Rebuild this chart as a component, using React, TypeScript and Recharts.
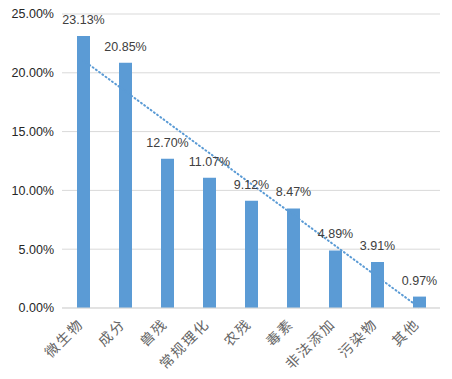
import React from "react";
import { ComposedChart, Bar, Line, XAxis, YAxis, CartesianGrid, LabelList } from "recharts";

const categories = ["微生物", "成分", "兽残", "常规理化", "农残", "毒素", "非法添加", "污染物", "其他"];
const shares = [23.13, 20.85, 12.7, 11.07, 9.12, 8.47, 4.89, 3.91, 0.97];
const yTicks = [0, 5, 10, 15, 20, 25];

// Linear trendline (least squares over the bar values), as the spreadsheet draws it
const n = shares.length;
const meanX = (n + 1) / 2;
const meanY = shares.reduce((a, b) => a + b, 0) / n;
let sxy = 0;
let sxx = 0;
shares.forEach((y, i) => {
  const dx = i + 1 - meanX;
  sxy += dx * (y - meanY);
  sxx += dx * dx;
});
const slope = sxy / sxx;

const data = categories.map((name, i) => ({
  name,
  value: shares[i],
  trend: meanY + slope * (i + 1 - meanX),
}));

const CJK = '"Noto Sans CJK SC", "Noto Sans", sans-serif';
const LAT = '"Liberation Sans", "DejaVu Sans", sans-serif';

const XTick = (props: any) => {
  const { x, y, payload } = props;
  return (
    <g transform={`translate(${x - 4},${y + 3})`}>
      <text
        x={0}
        y={0}
        dy={8}
        textAnchor="end"
        transform="rotate(-45)"
        fill="#666666"
        fontSize={14}
        letterSpacing={2}
        fontFamily={CJK}
      >
        {payload.value}
      </text>
    </g>
  );
};

export default function App() {
  return (
    <div style={{ position: "absolute", left: 0, top: 0, background: "#fff" }}>
      <ComposedChart
        width={452}
        height={379}
        data={data}
        margin={{ top: 14, right: 12, bottom: 0, left: 0 }}
      >
        <CartesianGrid vertical={false} stroke="#d9d9d9" />
        <XAxis
          dataKey="name"
          tick={<XTick />}
          tickLine={false}
          axisLine={{ stroke: "#d9d9d9" }}
          height={71}
          interval={0}
        />
        <YAxis
          width={62}
          domain={[0, 25]}
          ticks={yTicks}
          tickFormatter={(v: number) => `${v.toFixed(2)}%`}
          tick={{ fill: "#262626", fontSize: 12.5, fontFamily: LAT }}
          tickLine={false}
          axisLine={false}
        />
        <Bar dataKey="value" fill="#5b9bd5" barSize={13} isAnimationActive={false}>
          <LabelList
            dataKey="value"
            position="top"
            offset={12}
            formatter={(v: number) => `${v.toFixed(2)}%`}
            style={{ fill: "#404040", fontSize: 12.5, fontFamily: LAT }}
          />
        </Bar>
        <Line
          dataKey="trend"
          stroke="#5b9bd5"
          strokeWidth={2}
          strokeDasharray="1 3"
          strokeLinecap="round"
          dot={false}
          activeDot={false}
          type="linear"
          isAnimationActive={false}
        />
      </ComposedChart>
    </div>
  );
}
